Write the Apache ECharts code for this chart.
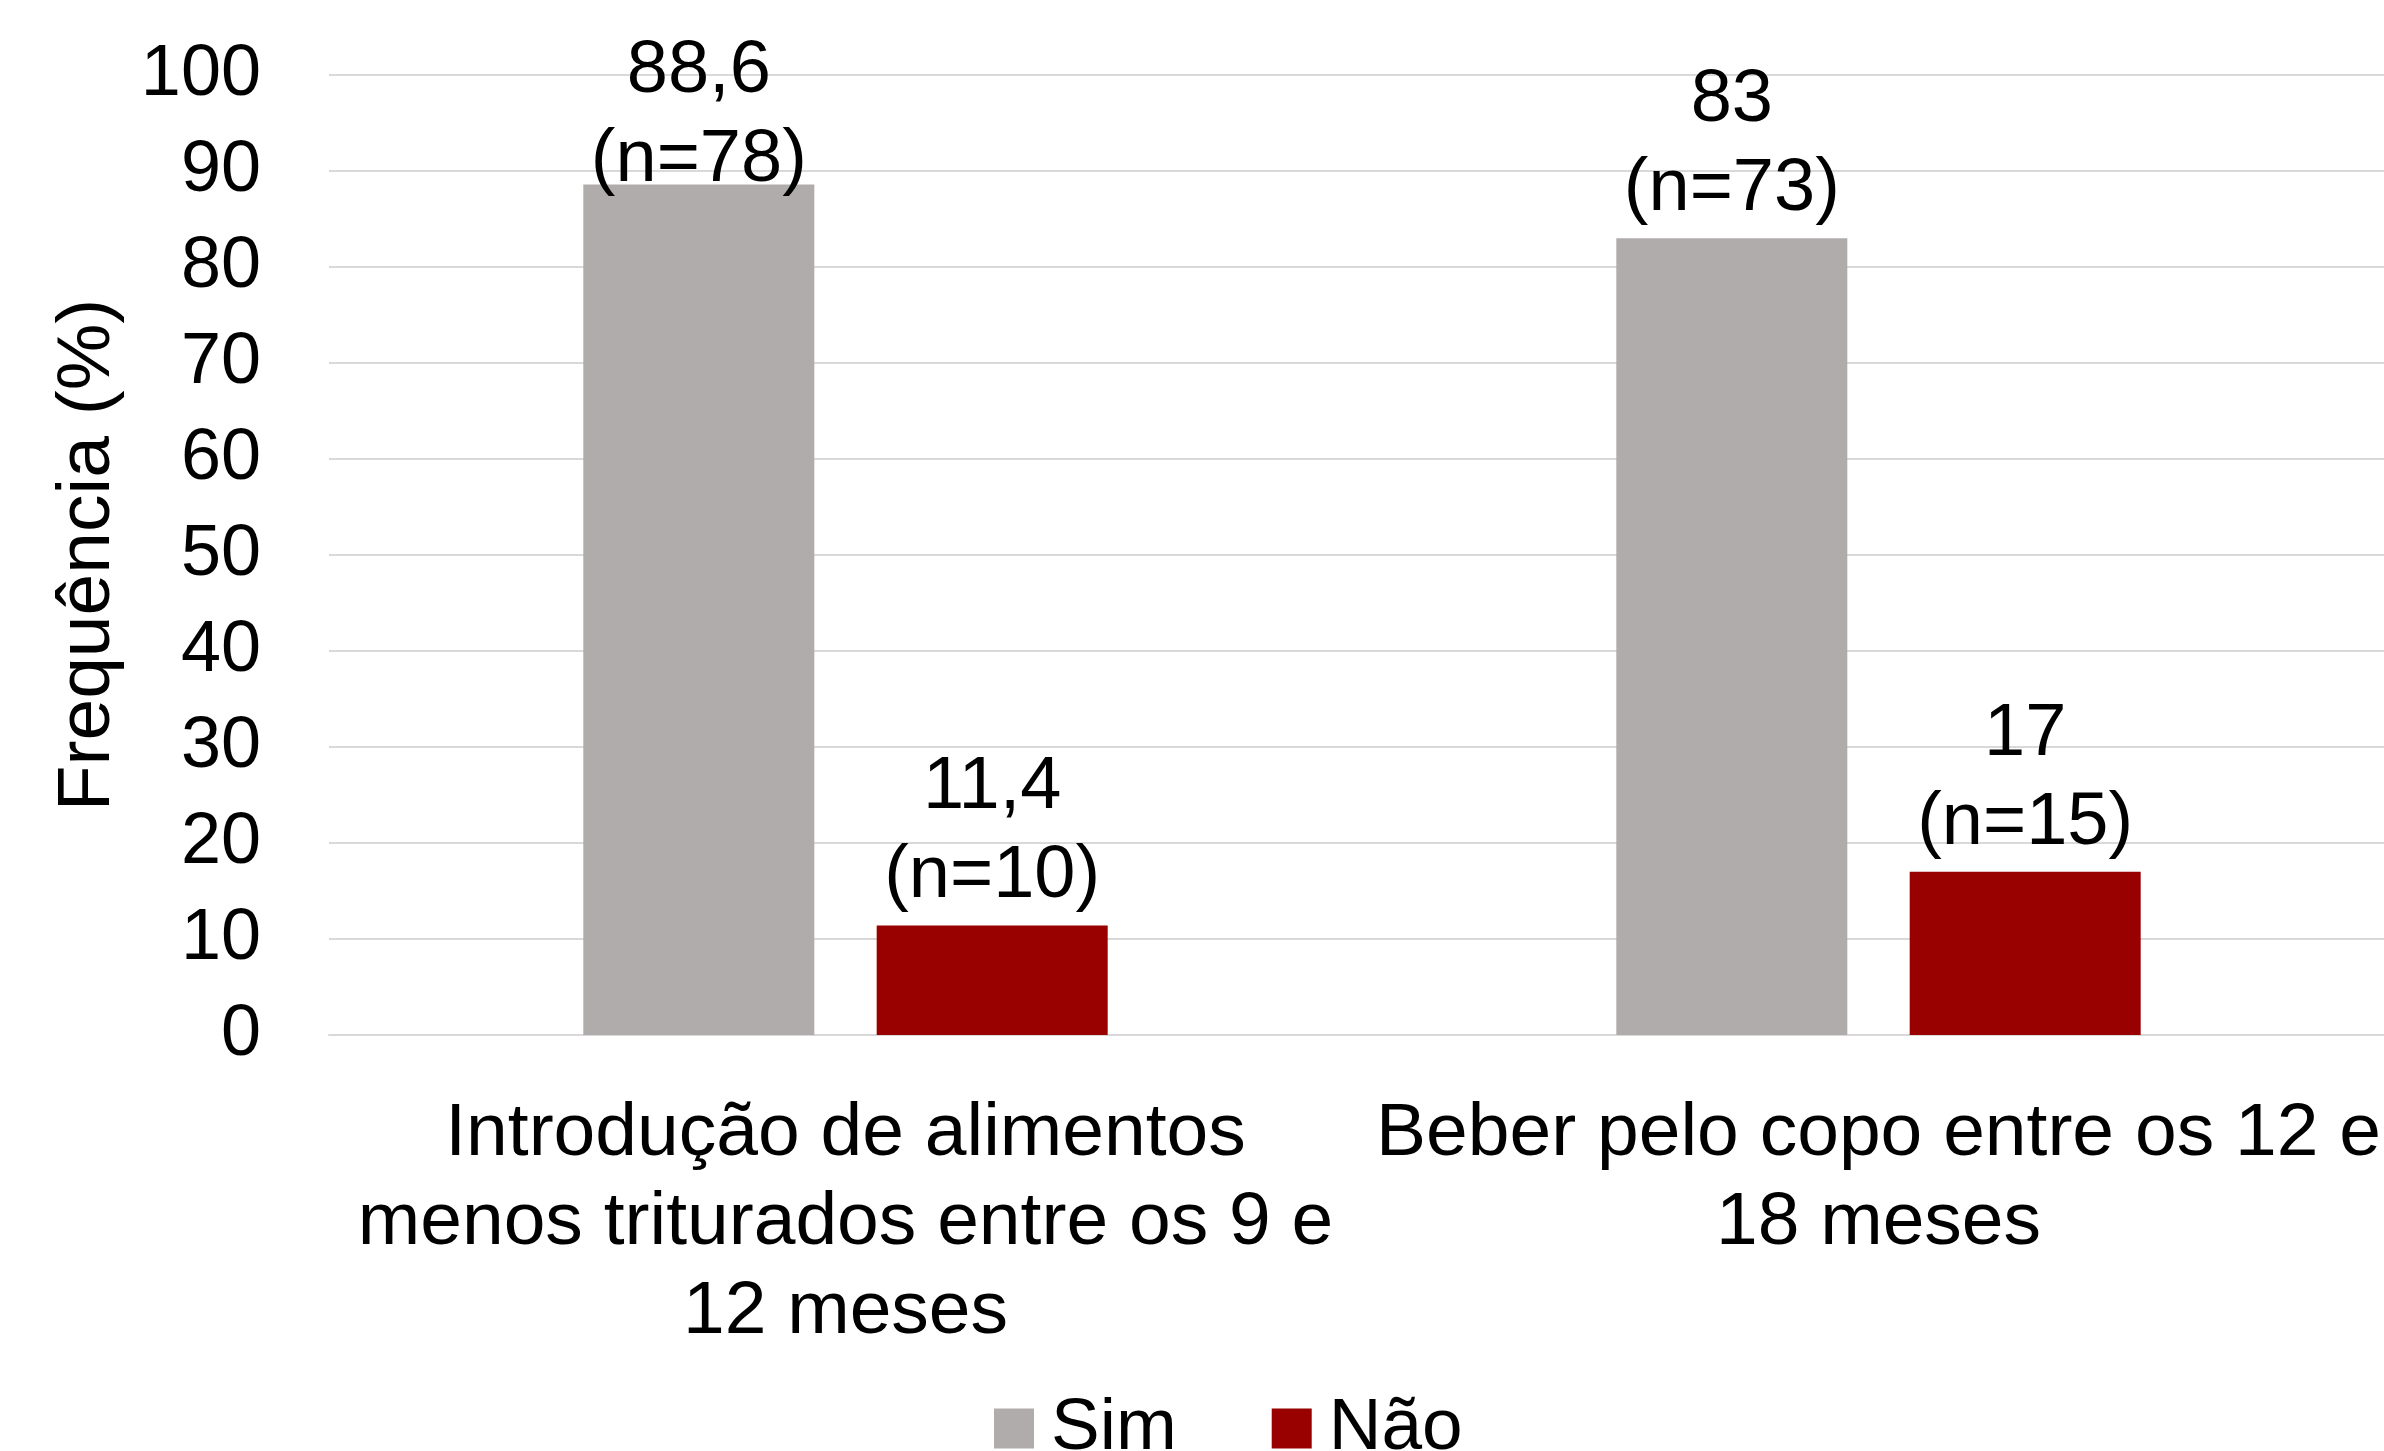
<!DOCTYPE html>
<html>
<head>
<meta charset="utf-8">
<script src="https://cdn.jsdelivr.net/npm/echarts@6/dist/echarts.min.js"></script>
<style>
  html, body { margin: 0; padding: 0; background: #ffffff; }
  #chart { width: 2384px; height: 1451px; }
</style>
</head>
<body>
<div id="chart"></div>
<script>
// Categories (line breaks as shown under the axis)
var categories = [
  'Introdução de alimentos\nmenos triturados entre os 9 e\n12 meses',
  'Beber pelo copo entre os 12 e\n18 meses'
];
// Percentages and counts per answer
var simValues = [88.6, 83];
var simCounts = [78, 73];
var naoValues = [11.4, 17];
var naoCounts = [10, 15];
var seriesNames = ['Sim', 'Não'];
var yTicks = [0, 10, 20, 30, 40, 50, 60, 70, 80, 90, 100];

var FONT = '"Liberation Sans", "Helvetica Neue", Helvetica, Arial, sans-serif';

function fmt(v) { return String(v).replace('.', ','); }

function buildData(values, counts, tallLabelIndex) {
  return values.map(function (v, i) {
    var item = { value: v, n: counts[i] };
    if (i === tallLabelIndex) {
      // the label of the tallest bar is pulled down to stay inside the plot area
      item.label = { distance: -21 };
    }
    return item;
  });
}

var chart = echarts.init(document.getElementById('chart'), null, { renderer: 'canvas' });

var labelStyle = {
  show: true,
  position: 'top',
  distance: 4,
  fontFamily: FONT,
  fontSize: 74,
  lineHeight: 89,
  color: '#000000',
  align: 'center',
  formatter: function (p) {
    return fmt(p.value) + '\n(n=' + p.data.n + ')';
  }
};

chart.setOption({
  backgroundColor: '#ffffff',
  animation: false,
  textStyle: { fontFamily: FONT },
  // the plot runs slightly past the right edge of the canvas
  grid: {
    left: 329, width: 2066, top: 75, bottom: 416,
    containLabel: false,
    outerBoundsMode: 'none'
  },
  legend: {
    data: seriesNames,
    left: 989,
    top: 1387,
    itemWidth: 40,
    itemHeight: 40,
    itemGap: 95,
    icon: 'rect',
    textStyle: {
      fontFamily: FONT,
      fontSize: 73,
      lineHeight: 72,
      color: '#000000',
      padding: [0, 0, 0, 12]
    }
  },
  xAxis: {
    type: 'category',
    data: categories,
    axisLine: { show: true, lineStyle: { color: '#D9D9D9', width: 2 } },
    axisTick: { show: false },
    axisLabel: {
      interval: 0,
      margin: 55,
      fontFamily: FONT,
      fontSize: 75,
      lineHeight: 89,
      color: '#000000',
      align: 'center'
    }
  },
  yAxis: {
    type: 'value',
    min: yTicks[0],
    max: yTicks[yTicks.length - 1],
    interval: yTicks[1] - yTicks[0],
    name: 'Frequência (%)',
    nameLocation: 'middle',
    nameRotate: 90,
    nameGap: 203,
    nameTextStyle: { fontFamily: FONT, fontSize: 75, color: '#000000' },
    axisLine: { show: false },
    axisTick: { show: false },
    axisLabel: {
      margin: 68,
      fontFamily: FONT,
      fontSize: 72,
      color: '#000000'
    },
    splitLine: { show: true, lineStyle: { color: '#D9D9D9', width: 2 } }
  },
  series: [
    {
      name: seriesNames[0],
      type: 'bar',
      barWidth: 231,
      barGap: '27%',
      itemStyle: { color: '#AFACAB' },
      label: labelStyle,
      data: buildData(simValues, simCounts, 0)
    },
    {
      name: seriesNames[1],
      type: 'bar',
      barWidth: 231,
      barGap: '27%',
      itemStyle: { color: '#990000' },
      label: labelStyle,
      data: buildData(naoValues, naoCounts, -1)
    }
  ]
});
</script>
</body>
</html>
